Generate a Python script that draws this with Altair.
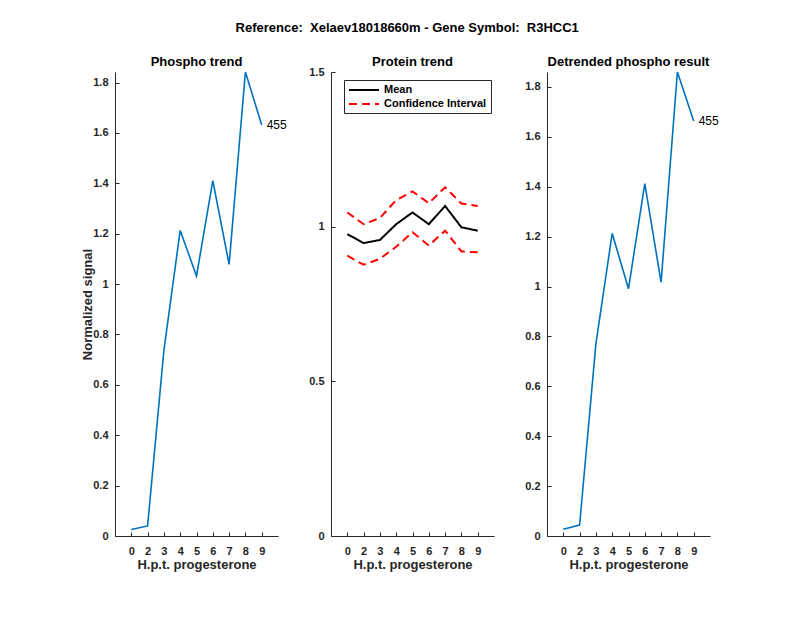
import altair as alt
import pandas as pd

# ---- data ----
hours = ["0", "2", "3", "4", "5", "6", "7", "8", "9"]
phospho = [0.026, 0.040, 0.737, 1.213, 1.032, 1.411, 1.078, 1.842, 1.632]
detrended = [0.027, 0.044, 0.770, 1.213, 0.991, 1.413, 1.017, 1.860, 1.664]
protein_mean = [0.976, 0.947, 0.957, 1.008, 1.046, 1.008, 1.067, 0.998, 0.987]
protein_upper = [1.046, 1.008, 1.028, 1.086, 1.114, 1.076, 1.127, 1.075, 1.067]
protein_lower = [0.906, 0.877, 0.896, 0.935, 0.982, 0.939, 0.987, 0.920, 0.917]
phospho_ticks = [0, 0.2, 0.4, 0.6, 0.8, 1.0, 1.2, 1.4, 1.6, 1.8]
protein_ticks = [0, 0.5, 1.0, 1.5]
series_names = ["Mean", "Confidence Interval"]
site_label = "455"

FONT = "Liberation Sans"
AX = "#262626"
BLUE = "#0072BD"


def x_enc():
    return alt.X(
        "hour:N",
        sort=hours,
        scale=alt.Scale(type="point", padding=1),
        axis=alt.Axis(
            title="H.p.t. progesterone",
            labelAngle=0,
            tickSize={"expr": "-4"},
            labelPadding=13,
            titlePadding=2,
        ),
    )


def y_axis(ticks, title=None):
    return alt.Axis(
        values=ticks,
        format=".1~f",
        tickSize={"expr": "-4"},
        labelPadding=11,
        titlePadding=-2,
        title=title,
    )


def panel_title(text, offset):
    return alt.TitleParams(text, offset=offset, fontSize=13, fontWeight="bold",
                           font=FONT, color="black", anchor="middle", frame="group")


def phospho_panel(values, title, ytitle=None):
    df = pd.DataFrame({"hour": hours, "value": values,
                       "lab": [""] * (len(hours) - 1) + [site_label]})
    base = alt.Chart(df)
    y = alt.Y("value:Q",
              scale=alt.Scale(domain=[0, max(values)], nice=False, zero=True),
              axis=y_axis(phospho_ticks, ytitle))
    line = base.mark_line(color=BLUE, strokeWidth=1.6).encode(x=x_enc(), y=y)
    txt = base.transform_filter(alt.datum.lab != "").mark_text(
        align="left", baseline="middle", dx=5, fontSize=12, font=FONT, color="black"
    ).encode(x=x_enc(), y=y, text="lab:N")
    return (line + txt).properties(width=163, height=464, title=panel_title(title, 0))


n = len(hours)
prot_df = pd.DataFrame({
    "hour": hours * 3,
    "value": protein_mean + protein_upper + protein_lower,
    "series": [series_names[0]] * n + [series_names[1]] * (2 * n),
    "band": ["mean"] * n + ["upper"] * n + ["lower"] * n,
})

legend = alt.Legend(
    title=None, orient="none", legendX=13, legendY=8,
    strokeColor=AX, fillColor="white", padding=4, rowPadding=3,
    symbolType="M-1,0H5", symbolSize=100, symbolStrokeWidth=2,
    labelFontSize=11, labelFontWeight="bold", labelFont=FONT, labelColor="black",
    labelOffset=24, cornerRadius=0,
)

protein = alt.Chart(prot_df).mark_line(strokeWidth=2).encode(
    x=x_enc(),
    y=alt.Y("value:Q", scale=alt.Scale(domain=[0, 1.5], nice=False),
            axis=y_axis(protein_ticks)),
    color=alt.Color("series:N", scale=alt.Scale(domain=series_names,
                                                 range=["black", "#FF0000"]),
                    legend=legend),
    strokeDash=alt.StrokeDash("series:N",
                              scale=alt.Scale(domain=series_names,
                                              range=[[1, 0], [8, 5]]),
                              legend=legend),
    detail="band:N",
).properties(width=163, height=464, title=panel_title("Protein trend", -3)
).resolve_legend(color="independent", strokeDash="independent")

left = phospho_panel(phospho, "Phospho trend", "Normalized signal")
right = phospho_panel(detrended, "Detrended phospho result")

chart = alt.hconcat(left, protein, right, spacing=53, bounds="flush").resolve_legend(
    color="independent", strokeDash="independent"
).resolve_scale(color="independent", strokeDash="independent").properties(
    title=alt.TitleParams(
        "Reference:\u00a0 Xelaev18018660m - Gene Symbol:\u00a0 R3HCC1",
        fontSize=13, fontWeight="bold", font=FONT, color="black",
        anchor="middle", dx=7, offset=21,
    ),
    padding={"left": 73, "top": 13, "right": 5, "bottom": 5},
).configure_view(stroke=None).configure_axis(
    grid=False, domainColor=AX, tickColor=AX, labelColor=AX, titleColor=AX,
    labelFont=FONT, titleFont=FONT, labelFontSize=11, labelFontWeight="bold",
    titleFontSize=13, titleFontWeight="bold", domainWidth=1, tickWidth=1,
)

chart.save("out.html", embed_options={"renderer": "svg", "actions": False})
